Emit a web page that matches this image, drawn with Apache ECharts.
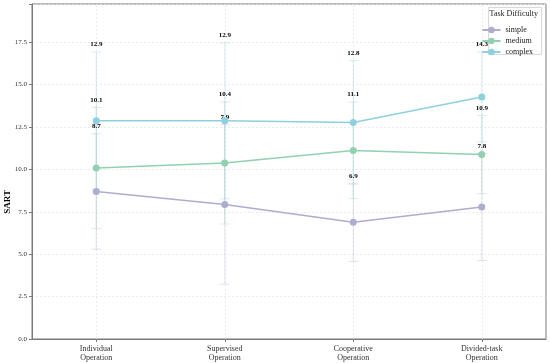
<!DOCTYPE html>
<html><head><meta charset="utf-8">
<script src="https://cdn.jsdelivr.net/npm/echarts@6/dist/echarts.min.js"></script>
<style>html,body{margin:0;padding:0;background:#fff}#c{width:550px;height:363px}</style>
</head><body><div id="c"></div>
<script>
const categories = ['Individual\nOperation','Supervised\nOperation','Cooperative\nOperation','Divided-task\nOperation'];
const seriesNames = ['simple','medium','complex'];
const simpleMean = [8.7, 7.93, 6.88, 7.78];
const simpleErr = [3.4, 4.7, 2.3, 3.15];
const mediumMean = [10.08, 10.38, 11.12, 10.87];
const mediumErr = [3.57, 3.6, 2.85, 2.3];
const complexMean = [12.87, 12.86, 12.77, 14.27];
const complexErr = [4.05, 4.6, 3.65, 2.65];
const yTicks = [0, 2.5, 5, 7.5, 10, 12.5, 15, 17.5];
const colors = ['#adadd0', '#92d0b2', '#8ecfe0'];
const means = [simpleMean, mediumMean, complexMean];
const errs = [simpleErr, mediumErr, complexErr];
const font = 'Liberation Serif, Times New Roman, serif';

const chart = echarts.init(document.getElementById('c'), null, {renderer:'canvas'});
const series = [];
seriesNames.forEach((name, si) => {
  series.push({
    type: 'custom', name: name + '_err', silent: true, z: 1,
    data: means[si].map((m, i) => [i, m, errs[si][i]]),
    renderItem: (params, api) => {
      const x = api.value(0), m = api.value(1), e = api.value(2);
      const top = api.coord([x, m + e]), bot = api.coord([x, m - e]);
      const w = 5;
      const st = {stroke: colors[si], lineWidth: 1, opacity: 0.35};
      return {type: 'group', children: [
        {type:'line', shape:{x1:top[0], y1:top[1], x2:bot[0], y2:bot[1]}, style: st},
        {type:'line', shape:{x1:top[0]-w, y1:top[1], x2:top[0]+w, y2:top[1]}, style: st},
        {type:'line', shape:{x1:bot[0]-w, y1:bot[1], x2:bot[0]+w, y2:bot[1]}, style: st},
        {type:'text', z2: 100, style:{x: top[0], y: top[1]-4, text: m.toFixed(1), fill:'#000',
          font: 'bold 7px ' + font, align:'center', verticalAlign:'bottom'}}
      ]};
    }
  });
});
seriesNames.forEach((name, si) => {
  const s = {
    type: 'line', name: name, data: means[si], z: 3,
    symbol: 'circle', symbolSize: 7,
    lineStyle: {color: colors[si], width: 1.5},
    itemStyle: {color: colors[si]}
  };
  if (si === 0) {
    s.markLine = {
      silent: true, symbol: 'none', z: 0, label: {show: false},
      lineStyle: {color: '#e6e6e6', type: [2, 2], width: 0.8},
      data: categories.map(c => ({xAxis: c}))
    };
  }
  series.push(s);
});

chart.setOption({
  animation: false,
  textStyle: {fontFamily: font},
  grid: {left: 32, right: 4, top: 4, bottom: 24, show: true, borderColor: '#7a7a7a', borderWidth: 1},
  legend: {
    data: seriesNames, orient: 'vertical', right: 12, top: 21, z: 20,
    itemWidth: 18, itemHeight: 8, itemGap: 3,
    textStyle: {fontFamily: font, fontSize: 8, color: '#222'}
  },
  graphic: [
    {type: 'rect', right: 8, top: 7, z: 10, shape: {width: 53, height: 47},
     style: {fill: 'rgba(255,255,255,0.85)', stroke: '#ccc', lineWidth: 0.8}},
    {type: 'text', right: 12, top: 10, z: 11,
     style: {text: 'Task Difficulty', font: '8px ' + font, fill: '#222'}},
    {type: 'text', left: 3, top: 190, rotation: Math.PI/2, z: 11,
     style: {text: 'SART', font: 'bold 9px ' + font, fill: '#000', align:'center', verticalAlign:'middle'}}
  ],
  xAxis: {
    type: 'category', data: categories, boundaryGap: true,
    axisLine: {lineStyle: {color: '#7a7a7a'}},
    axisTick: {show: true, alignWithLabel: true, length: 3, lineStyle: {color: '#7a7a7a'}, interval: 0},
    axisLabel: {fontFamily: font, fontSize: 8, color: '#333', lineHeight: 9, margin: 5, interval: 0},
    splitLine: {show: false}
  },
  yAxis: {
    type: 'value', min: 0, max: 19.75, interval: 2.5,
    axisLine: {show: true, lineStyle: {color: '#7a7a7a'}},
    axisTick: {show: true, length: 3, lineStyle: {color: '#7a7a7a'}},
    axisLabel: {fontFamily: font, fontSize: 7, color: '#333', margin: 5,
      formatter: v => yTicks.includes(v) ? v.toFixed(1) : ''},
    splitLine: {show: true, lineStyle: {color: '#e6e6e6', type: [2, 2], width: 0.8}}
  },
  series: series
});
</script></body></html>
